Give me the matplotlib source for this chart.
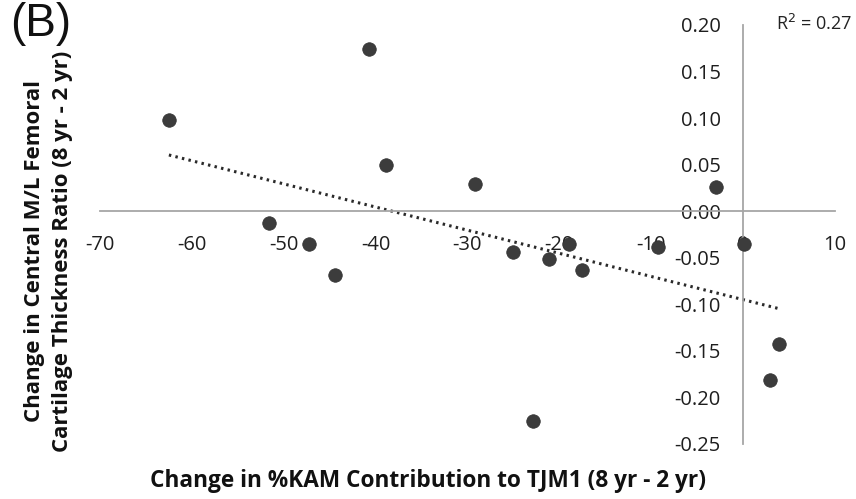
import matplotlib
matplotlib.use("Agg")
import matplotlib.pyplot as plt
import numpy as np

plt.rcParams['font.family'] = ['Open Sans', 'DejaVu Sans']
plt.rcParams['axes.unicode_minus'] = False

# change in %KAM contribution vs change in M/L thickness ratio
kam_change = [-62.5, -40.7, -38.9, -29.2, -3.0, -51.6, -47.3, -44.4, -25.0,
              -21.1, -19.0, -17.5, -9.25, 0.1, -22.9, 3.9, 2.9]
ratio_change = [0.098, 0.174, 0.049, 0.029, 0.026, -0.013, -0.035, -0.069, -0.044,
                -0.052, -0.036, -0.063, -0.039, -0.035, -0.226, -0.143, -0.182]

x_ticks = [-70, -60, -50, -40, -30, -20, -10, 0, 10]
y_ticks = [-0.25, -0.20, -0.15, -0.10, -0.05, 0.00, 0.05, 0.10, 0.15, 0.20]
r2_text = "R$^2$ = 0.27"

fig = plt.figure(figsize=(8.56, 4.99), dpi=100)
ax = fig.add_axes([0.1168, 0.1112, 0.8586, 0.8387])

x = np.array(kam_change)
y = np.array(ratio_change)

# linear trendline over data range
slope, intercept = np.polyfit(x, y, 1)
xl = np.array([x.min(), x.max()])
ax.plot(xl, slope * xl + intercept, color='#2a2a2a', lw=2.2,
        linestyle=(0, (0.8, 1.4)), zorder=2)

ax.scatter(x, y, s=95, color='#3c3c3c', edgecolor='#2e2e2e', lw=0.5, zorder=3)

ax.set_xlim(-70, 10)
ax.set_ylim(-0.25, 0.20)
ax.set_xticks(x_ticks)
ax.set_yticks(y_ticks)
ax.set_xticklabels([str(v) for v in x_ticks])
ax.set_yticklabels(["%.2f" % v for v in y_ticks])

for s in ['top', 'right']:
    ax.spines[s].set_visible(False)
ax.spines['left'].set_position(('data', 0))
ax.spines['bottom'].set_position(('data', 0))
for s in ['left', 'bottom']:
    ax.spines[s].set_color('#a6a6a6')
    ax.spines[s].set_linewidth(1.3)

ax.tick_params(axis='x', length=0, pad=17, labelsize=14.5, colors='#1e1e1e')
ax.tick_params(axis='y', length=0, pad=16, labelsize=14.5, colors='#1e1e1e')
ax.patch.set_alpha(0)

fig.text(0.5, 0.012, "Change in %KAM Contribution to TJM1 (8 yr - 2 yr)",
         ha='center', va='bottom', fontsize=16.3, fontweight='bold', color='#111111')
fig.text(0.057, 0.497, "Change in Central M/L Femoral\nCartilage Thickness Ratio (8 yr - 2 yr)",
         ha='center', va='center', rotation=90, fontsize=16, fontweight='bold',
         color='#111111', linespacing=1.45)

fig.text(0.012, 0.995, "(B)", ha='left', va='top', fontsize=33,
         family=['Liberation Sans', 'DejaVu Sans'], color='#111111')
fig.text(0.996, 0.952, r2_text, ha='right', va='center', fontsize=13, color='#222222')

fig.savefig("out.png", dpi=100)
